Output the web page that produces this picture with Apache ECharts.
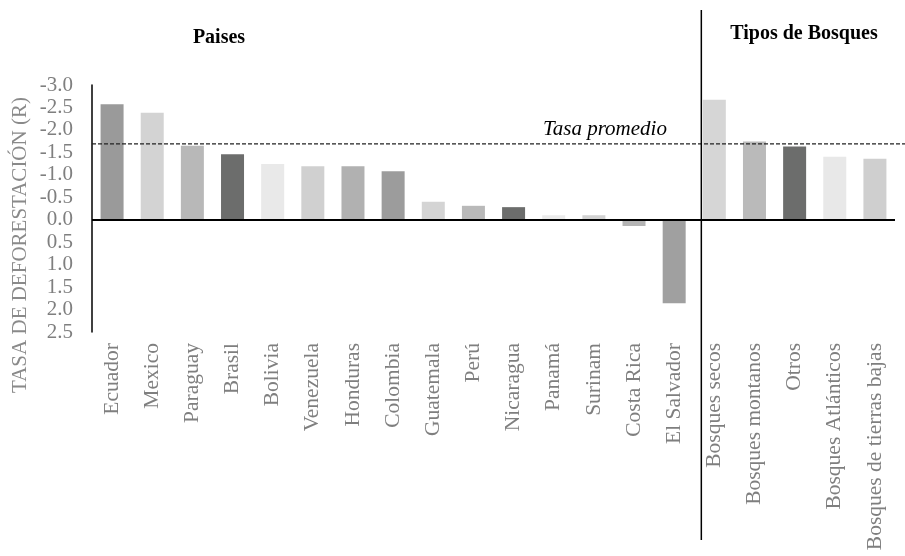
<!DOCTYPE html>
<html>
<head>
<meta charset="utf-8">
<script src="https://cdn.jsdelivr.net/npm/echarts@6/dist/echarts.min.js"></script>
<style>html,body{margin:0;padding:0;background:#fff}#c{width:905px;height:556px}</style>
</head>
<body>
<div id="c"></div>
<script>
var categories = ['Ecuador','Mexico','Paraguay','Brasil','Bolivia','Venezuela','Honduras','Colombia','Guatemala','Perú','Nicaragua','Panamá','Surinam','Costa Rica','El Salvador','Bosques secos','Bosques montanos','Otros','Bosques Atlánticos','Bosques de tierras bajas'];
var rates = [-2.57,-2.38,-1.65,-1.46,-1.24,-1.19,-1.19,-1.08,-0.40,-0.31,-0.28,-0.10,-0.10,0.14,1.86,-2.67,-1.74,-1.63,-1.40,-1.36];
var averageRate = -1.69;
var yTicks = [-3.0,-2.5,-2.0,-1.5,-1.0,-0.5,0.0,0.5,1.0,1.5,2.0,2.5];
var groupTitles = ['Paises','Tipos de Bosques'];
var averageLabel = 'Tasa promedio';
var yTitle = 'TASA DE DEFORESTACIÓN (R)';

var barColors = ['#9a9a9a','#d3d3d3','#b8b8b8','#6c6d6c','#e9e9e9','#d0d0d0','#b1b1b1','#9c9c9c','#d4d4d4','#b9b9b9','#6c6d6c','#ebebeb','#d2d2d2','#b4b4b4','#a0a0a0','#d6d6d6','#bababa','#6c6d6c','#e8e8e8','#cfcfcf'];
var FONT = '"Liberation Serif", "Times New Roman", serif';

var chart = echarts.init(document.getElementById('c'));
var option = {
  animation: false,
  grid: {left: 92, right: 10, top: 85, bottom: 224, containLabel: false},
  xAxis: {
    type: 'category',
    data: categories,
    axisLine: {show: false},
    axisTick: {show: false},
    axisLabel: {interval: 0, rotate: 90, margin: 11, color: '#7f7f7f', fontFamily: FONT, fontSize: 21.5}
  },
  yAxis: {
    type: 'value',
    inverse: true,
    min: yTicks[0],
    max: yTicks[yTicks.length - 1],
    interval: 0.5,
    axisLine: {show: true, lineStyle: {color: '#000', width: 1.5}},
    axisTick: {show: false},
    splitLine: {show: false},
    axisLabel: {margin: 19, color: '#7f7f7f', fontFamily: FONT, fontSize: 21, formatter: function (v) { return v.toFixed(1); }}
  },
  series: [{
    type: 'bar',
    barWidth: 23,
    data: rates.map(function (v, i) { return {value: v, itemStyle: {color: barColors[i]}}; }),
    markLine: {
      silent: true,
      symbol: 'none',
      label: {show: false},
      lineStyle: {color: '#000', width: 2, type: 'solid'},
      data: [{yAxis: 0}]
    }
  }]
};
chart.setOption(option);

var pAvg = chart.convertToPixel({gridIndex: 0}, [0, averageRate]);
var pFirstForest = chart.convertToPixel({gridIndex: 0}, [15, 0]);
var divX = pFirstForest[0] - 13;

chart.setOption({
  graphic: [
    {type: 'line', z: 10, shape: {x1: 92, y1: pAvg[1], x2: 905, y2: pAvg[1]}, style: {stroke: '#222', lineWidth: 1.3, lineDash: [4, 2]}},
    {type: 'line', z: 10, shape: {x1: divX, y1: 10, x2: divX, y2: 540}, style: {stroke: '#000', lineWidth: 1.5}},
    {type: 'text', x: 605, y: pAvg[1] - 14, style: {text: averageLabel, font: 'italic 21px ' + FONT, fill: '#000', align: 'center', verticalAlign: 'middle'}},
    {type: 'text', x: 219, y: 38, style: {text: groupTitles[0], font: 'bold 20px ' + FONT, fill: '#000', align: 'center', verticalAlign: 'middle'}},
    {type: 'text', x: 804, y: 34, style: {text: groupTitles[1], font: 'bold 20px ' + FONT, fill: '#000', align: 'center', verticalAlign: 'middle'}},
    {type: 'text', x: 20, y: 245, rotation: Math.PI / 2, style: {text: yTitle, font: '21px ' + FONT, fill: '#8a8a8a', align: 'center', verticalAlign: 'middle'}}
  ]
});
</script>
</body>
</html>
